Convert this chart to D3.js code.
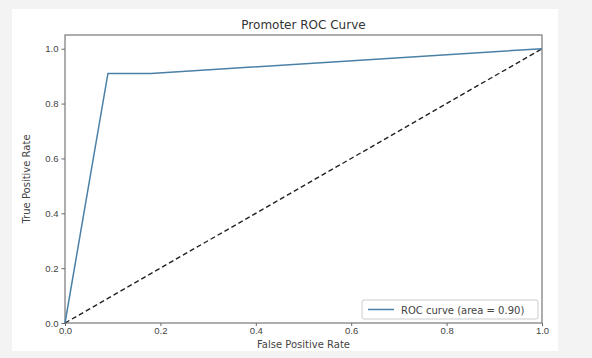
<!DOCTYPE html>
<html>
<head>
<meta charset="utf-8">
<script src="https://cdn.jsdelivr.net/npm/d3@7"></script>
<style>
  body { margin: 0; background: #f3f3f3; }
  svg { display: block; font-family: "DejaVu Sans", sans-serif; }
</style>
</head>
<body>
<svg id="chart" width="592" height="358"></svg>
<script>
// ROC data
let fpr = [0, 0.09, 0.18, 1];
let tpr = [0, 0.91, 0.91, 1];
let chance = [0, 1];
let ticks = [0, 0.2, 0.4, 0.6, 0.8, 1.0];
let areaLabel = 'ROC curve (area = 0.90)';

let width = 592, height = 358;
let margin = { left: 65, right: 50, top: 35, bottom: 35 };

let svg = d3.select('#chart');

// white figure panel
svg.append('rect')
    .attr('x', 12).attr('y', 9)
    .attr('width', 546).attr('height', 342)
    .attr('fill', '#fff');

let x = d3.scaleLinear().domain([0, 1]).range([margin.left, width - margin.right]);
let y = d3.scaleLinear().domain([0, 1.05]).range([height - margin.bottom, margin.top]);

let fmt = d3.format('.1f');

let xAxis = svg.append('g')
    .attr('transform', `translate(0,${height - margin.bottom})`)
    .call(d3.axisBottom(x).tickValues(ticks).tickFormat(fmt).tickSize(3).tickPadding(1.5));
let yAxis = svg.append('g')
    .attr('transform', `translate(${margin.left},0)`)
    .call(d3.axisLeft(y).tickValues(ticks).tickFormat(fmt).tickSize(3.5).tickPadding(3));

[xAxis, yAxis].forEach(a => {
    a.select('.domain').remove();
    a.selectAll('line').attr('stroke', '#666');
    a.selectAll('text').attr('fill', '#444').style('font-size', '9.5px');
});

// frame
svg.append('rect')
    .attr('x', x(0)).attr('y', y(1.05))
    .attr('width', x(1) - x(0)).attr('height', y(0) - y(1.05))
    .attr('fill', 'none').attr('stroke', '#777').attr('stroke-width', 1.2);

let line = d3.line().x(d => x(d[0])).y(d => y(d[1]));

svg.append('path')
    .datum(chance.map(v => [v, v]))
    .attr('d', line)
    .attr('fill', 'none')
    .attr('stroke', '#222')
    .attr('stroke-width', 1.4)
    .attr('stroke-dasharray', '5,3');

svg.append('path')
    .datum(fpr.map((v, i) => [v, tpr[i]]))
    .attr('d', line)
    .attr('fill', 'none')
    .attr('stroke', '#4a80a6')
    .attr('stroke-width', 1.5);

// title and labels
svg.append('text')
    .attr('x', (x(0) + x(1)) / 2).attr('y', 29)
    .attr('text-anchor', 'middle')
    .attr('fill', '#333').style('font-size', '12px')
    .text('Promoter ROC Curve');

svg.append('text')
    .attr('x', (x(0) + x(1)) / 2).attr('y', 348)
    .attr('text-anchor', 'middle')
    .attr('fill', '#444').style('font-size', '10px')
    .text('False Positive Rate');

svg.append('text')
    .attr('transform', `translate(30,${(y(0) + y(1.05)) / 2}) rotate(-90)`)
    .attr('text-anchor', 'middle')
    .attr('fill', '#444').style('font-size', '10px')
    .text('True Positive Rate');

// legend
let legend = svg.append('g').attr('transform', 'translate(362,300)');
legend.append('rect')
    .attr('width', 176).attr('height', 19).attr('rx', 2)
    .attr('fill', '#fff').attr('stroke', '#ccc');
legend.append('line')
    .attr('x1', 6).attr('x2', 32).attr('y1', 9.5).attr('y2', 9.5)
    .attr('stroke', '#4a80a6').attr('stroke-width', 1.5);
legend.append('text')
    .attr('x', 39).attr('y', 13.5)
    .attr('fill', '#444').style('font-size', '10px')
    .text(areaLabel);
</script>
</body>
</html>
